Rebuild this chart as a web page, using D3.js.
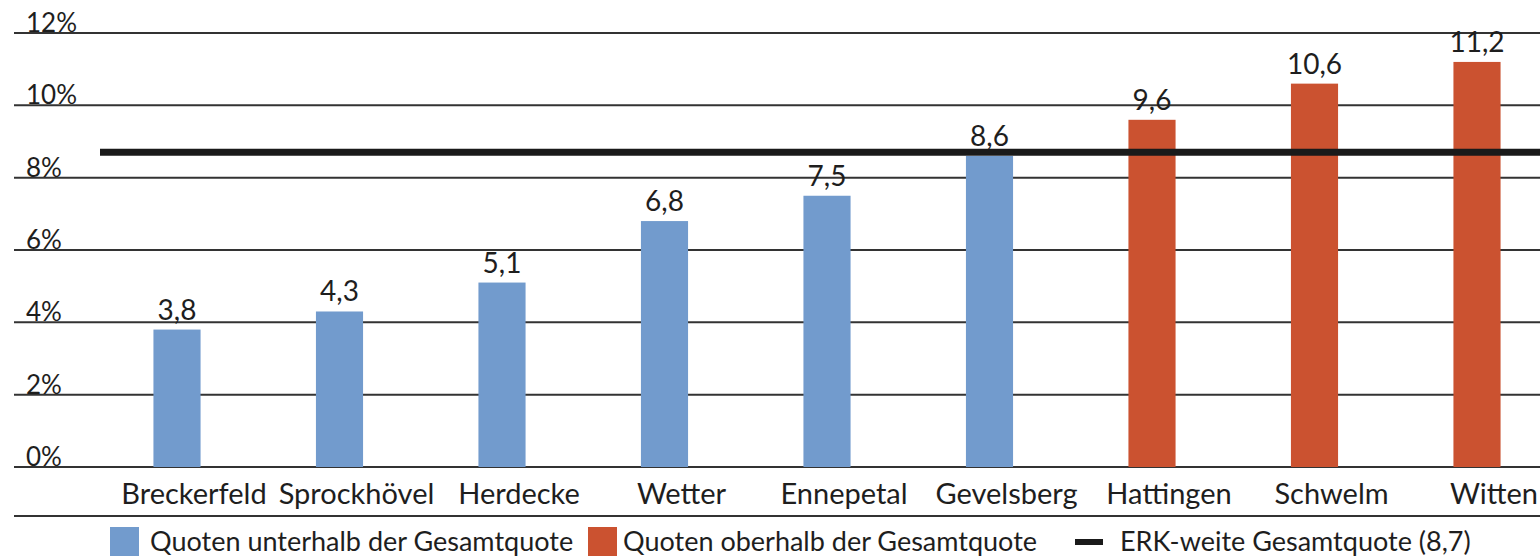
<!DOCTYPE html>
<html><head><meta charset="utf-8">
<script src="https://cdn.jsdelivr.net/npm/d3@7"></script>
<style>
html,body{margin:0;padding:0;background:#fff;}
svg{display:block;font-family:Lato,"Open Sans",sans-serif;}
</style></head>
<body><svg id="c" width="1540" height="560"></svg>
<script>
const categories = ["Breckerfeld","Sprockhövel","Herdecke","Wetter","Ennepetal","Gevelsberg","Hattingen","Schwelm","Witten"];
const values = [3.8,4.3,5.1,6.8,7.5,8.6,9.6,10.6,11.2];
const overall = 8.7;
const yTicks = [0,2,4,6,8,10,12];
const legendLabels = ["Quoten unterhalb der Gesamtquote","Quoten oberhalb der Gesamtquote","ERK-weite Gesamtquote (8,7)"];

const colBelow = "#729bcd", colAbove = "#cb5230", ink = "#1e1e1e";
const de = d3.formatLocale({decimal:",",thousands:".",grouping:[3],currency:["","€"]});
const fmt = de.format(".1f");

const svg = d3.select("#c");
const y = d3.scaleLinear().domain([0,12]).range([467,33]);
const x = d3.scaleBand().domain(categories).range([95.75,1558.25]).paddingInner(0.71).paddingOuter(0.355);

// gridlines + tick labels
const g = svg.append("g");
g.selectAll("line.grid").data(yTicks).join("line")
  .attr("x1",14).attr("x2",1540).attr("y1",d=>y(d)).attr("y2",d=>y(d))
  .attr("stroke","#333").attr("stroke-width",2);
g.selectAll("text.tick").data(yTicks).join("text")
  .attr("x",26).attr("y",d=>y(d)).attr("dy",-1)
  .attr("font-size",26).attr("fill",ink).text(d=>d+"%");

// bars
svg.append("g").selectAll("rect").data(values).join("rect")
  .attr("x",(d,i)=>x(categories[i])).attr("width",x.bandwidth())
  .attr("y",d=>y(d)).attr("height",d=>y(0)-y(d))
  .attr("fill",d=>d>overall?colAbove:colBelow);

// value labels
svg.append("g").selectAll("text").data(values).join("text")
  .attr("x",(d,i)=>x(categories[i])+x.bandwidth()/2).attr("y",d=>y(d)-10)
  .attr("text-anchor","middle").attr("font-size",28).attr("fill",ink).text(d=>fmt(d));

// overall line
svg.append("line").attr("x1",100).attr("x2",1540).attr("y1",y(overall)).attr("y2",y(overall))
  .attr("stroke","#1a1a1a").attr("stroke-width",7);

// category labels
svg.append("g").selectAll("text").data(categories).join("text")
  .attr("x",d=>x(d)+x.bandwidth()/2+17).attr("y",504)
  .attr("text-anchor","middle").attr("font-size",29).attr("fill",ink).text(d=>d);

// bottom separator
svg.append("line").attr("x1",14).attr("x2",1540).attr("y1",516).attr("y2",516)
  .attr("stroke","#333").attr("stroke-width",2);

// legend
const lg = svg.append("g");
const lx = [110,588,1075];
lg.append("rect").attr("x",lx[0]).attr("y",527).attr("width",29).attr("height",29).attr("fill",colBelow);
lg.append("rect").attr("x",lx[1]).attr("y",527).attr("width",29).attr("height",29).attr("fill",colAbove);
lg.append("line").attr("x1",lx[2]).attr("x2",lx[2]+28).attr("y1",542).attr("y2",542).attr("stroke","#1a1a1a").attr("stroke-width",6);
const ltx = [150,623,1120];
lg.selectAll("text").data(legendLabels).join("text")
  .attr("x",(d,i)=>ltx[i]).attr("y",551).attr("font-size",27).attr("fill",ink).text(d=>d);
</script></body></html>
